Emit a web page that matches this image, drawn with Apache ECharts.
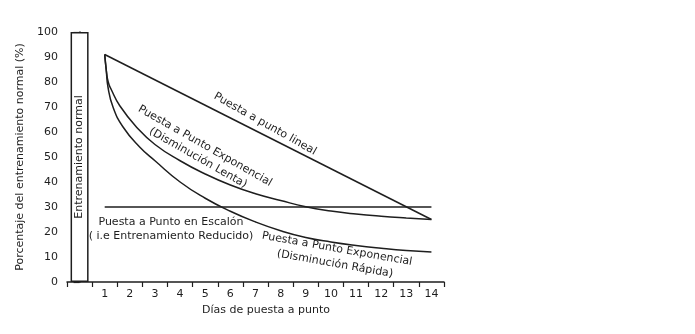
<!DOCTYPE html>
<html>
<head>
<meta charset="utf-8">
<script src="https://cdn.jsdelivr.net/npm/echarts@6/dist/echarts.min.js"></script>
<style>
  html, body { margin: 0; padding: 0; background: #fff; }
  #chart { width: 695px; height: 334px; }
</style>
</head>
<body>
<div id="chart"></div>
<script>
// Category labels along the bottom axis: the first slot holds the normal-training bar
const dayLabels = ['', '1', '2', '3', '4', '5', '6', '7', '8', '9', '10', '11', '12', '13', '14'];
const normalTraining = [100];

// Taper curves: day on the x axis, % of normal training on the y axis
const linearDays = [1, 14];
const linearPct = [91, 25];

const stepDays = [1, 14];
const stepPct = [30, 30];

const slowDays = [1, 1.06, 1.14, 1.26, 1.6, 2.26, 3, 4, 5, 6, 7, 8, 9, 10, 11, 12, 13, 14];
const slowPct = [91, 85, 80, 77, 70.5, 62, 55, 48.5, 43.2, 38.8, 35.3, 32.6, 30.1, 28.4, 27.2, 26.3, 25.6, 25];

const fastDays = [1, 1.06, 1.13, 1.33, 1.73, 2.39, 3, 4, 5, 6, 7, 8, 9, 10, 11, 12, 13, 14];
const fastPct = [91, 85, 78, 70, 62, 54, 48.5, 40, 33.5, 28.3, 24, 20.5, 17.8, 16, 14.6, 13.5, 12.6, 12];

const ink = '#1e1e1e';
const font = 'DejaVu Sans';

function pairs(xs, ys) {
  return xs.map((x, i) => [x, ys[i]]);
}

function curve(name, xs, ys, smooth) {
  return {
    name: name,
    type: 'line',
    xAxisIndex: 1,
    yAxisIndex: 0,
    data: pairs(xs, ys),
    smooth: smooth,
    showSymbol: false,
    symbol: 'none',
    lineStyle: { color: ink, width: 1.5 },
    z: 3
  };
}

const chart = echarts.init(document.getElementById('chart'), null, { renderer: 'canvas' });

const textStyle = { fill: ink, font: '11px "DejaVu Sans"' };

chart.setOption({
  animation: false,
  backgroundColor: '#fff',
  grid: { left: 67, right: 251, top: 32, bottom: 52 },
  xAxis: [
    {
      type: 'category',
      data: dayLabels,
      boundaryGap: true,
      name: 'Días de puesta a punto',
      nameLocation: 'middle',
      nameGap: 23,
      nameTextStyle: { color: ink, fontFamily: font, fontSize: 11, padding: [0, 0, 0, 21] },
      axisLine: { lineStyle: { color: ink, width: 1.5 } },
      axisTick: { show: true, length: 5, alignWithLabel: false, lineStyle: { color: ink, width: 1.2 } },
      axisLabel: { color: ink, fontFamily: font, fontSize: 11, margin: 7 },
      splitLine: { show: false }
    },
    {
      type: 'value',
      min: -0.5,
      max: 14.5,
      show: false
    }
  ],
  yAxis: {
    type: 'value',
    min: 0,
    max: 100,
    interval: 10,
    name: 'Porcentaje del entrenamiento normal (%)',
    nameLocation: 'middle',
    nameGap: 29,
    nameTextStyle: { color: ink, fontFamily: font, fontSize: 11 },
    axisLine: { show: true, lineStyle: { color: ink, width: 1.5 } },
    axisTick: { show: true, length: 6, lineStyle: { color: ink, width: 1.2 } },
    axisLabel: { color: ink, fontFamily: font, fontSize: 11, margin: 9 },
    splitLine: { show: false }
  },
  series: [
    {
      name: 'Entrenamiento normal',
      type: 'bar',
      xAxisIndex: 0,
      data: normalTraining,
      barWidth: 18,
      itemStyle: { color: '#fff', borderColor: ink, borderWidth: 1.5 },
      label: {
        show: true,
        position: 'inside',
        rotate: 90,
        formatter: 'Entrenamiento normal',
        color: ink,
        fontFamily: font,
        fontSize: 11
      },
      z: 2
    },
    curve('Puesta a punto lineal', linearDays, linearPct, false),
    curve('Puesta a Punto en Escalón', stepDays, stepPct, false),
    curve('Disminución Lenta', slowDays, slowPct, 0.5),
    curve('Disminución Rápida', fastDays, fastPct, 0.5)
  ],
  graphic: [
    { type: 'text', x: 265, y: 124, rotation: -29.4 * Math.PI / 180,
      style: Object.assign({ text: 'Puesta a punto lineal', align: 'center', verticalAlign: 'middle' }, textStyle) },
    { type: 'text', x: 205, y: 146, rotation: -29.7 * Math.PI / 180,
      style: Object.assign({ text: 'Puesta a Punto Exponencial', align: 'center', verticalAlign: 'middle' }, textStyle) },
    { type: 'text', x: 198, y: 158, rotation: -29.7 * Math.PI / 180,
      style: Object.assign({ text: '(Disminución Lenta)', align: 'center', verticalAlign: 'middle' }, textStyle) },
    { type: 'text', x: 171, y: 222, rotation: 0,
      style: Object.assign({ text: 'Puesta a Punto en Escalón', align: 'center', verticalAlign: 'middle' }, textStyle) },
    { type: 'text', x: 171, y: 236, rotation: 0,
      style: Object.assign({ text: '( i.e Entrenamiento Reducido)', align: 'center', verticalAlign: 'middle' }, textStyle) },
    { type: 'text', x: 337, y: 249, rotation: -10 * Math.PI / 180,
      style: Object.assign({ text: 'Puesta a Punto Exponencial', align: 'center', verticalAlign: 'middle' }, textStyle) },
    { type: 'text', x: 335, y: 264, rotation: -10 * Math.PI / 180,
      style: Object.assign({ text: '(Disminución Rápida)', align: 'center', verticalAlign: 'middle' }, textStyle) }
  ]
});
</script>
</body>
</html>
